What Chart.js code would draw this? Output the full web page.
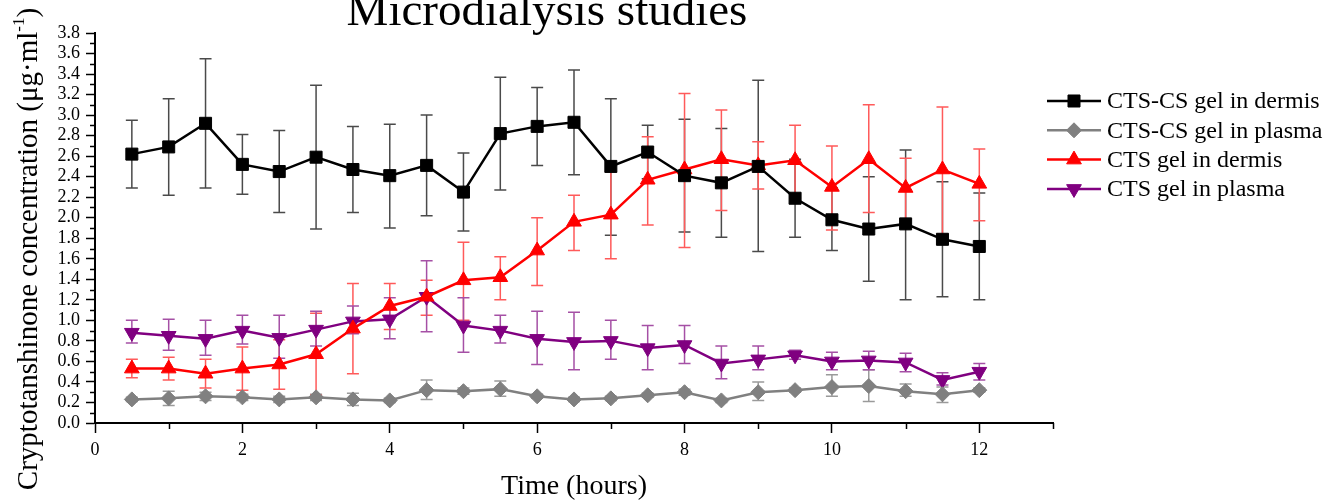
<!DOCTYPE html>
<html><head><meta charset="utf-8">
<script src="https://cdn.jsdelivr.net/npm/chart.js@4/dist/chart.umd.min.js"></script>
<style>html,body{margin:0;padding:0;background:#fff;overflow:hidden}#wrap{position:relative;width:1324px;height:503px}</style>
</head><body><div id="wrap"><canvas id="c" width="1324" height="503"></canvas></div>
<script>
const hours = [0.5,1,1.5,2,2.5,3,3.5,4,4.5,5,5.5,6,6.5,7,7.5,8,8.5,9,9.5,10,10.5,11,11.5,12];
const seriesNames = ['CTS-CS gel in dermis','CTS-CS gel in plasma','CTS gel in dermis','CTS gel in plasma'];

const ctsCsDermis   = [2.62,2.69,2.92,2.52,2.45,2.59,2.47,2.41,2.51,2.25,2.82,2.89,2.93,2.50,2.64,2.41,2.34,2.50,2.19,1.98,1.89,1.94,1.79,1.72];
const ctsCsDermisHi = [2.95,3.16,3.55,2.81,2.85,3.29,2.89,2.91,3.00,2.63,3.37,3.27,3.44,3.16,2.90,2.96,2.87,3.34,2.57,2.29,2.40,2.66,2.35,2.24];
const ctsCsDermisLo = [2.29,2.22,2.29,2.23,2.05,1.89,2.05,1.90,2.02,1.87,2.27,2.51,2.42,1.83,2.38,1.86,1.81,1.67,1.81,1.68,1.38,1.20,1.23,1.20];

const ctsCsPlasma   = [0.23,0.24,0.26,0.25,0.23,0.25,0.23,0.22,0.32,0.31,0.33,0.26,0.23,0.24,0.27,0.30,0.22,0.30,0.32,0.35,0.36,0.31,0.28,0.32];
const ctsCsPlasmaHi = [0.25,0.31,0.30,0.28,0.26,0.28,0.29,0.24,0.42,0.34,0.41,0.28,0.25,0.26,0.29,0.33,0.24,0.40,0.34,0.47,0.52,0.38,0.35,0.34];
const ctsCsPlasmaLo = [0.21,0.17,0.22,0.22,0.20,0.22,0.17,0.20,0.23,0.28,0.26,0.24,0.21,0.22,0.25,0.27,0.20,0.22,0.30,0.26,0.21,0.26,0.20,0.30];

const ctsDermis   = [0.53,0.53,0.48,0.53,0.57,0.67,0.92,1.14,1.23,1.39,1.42,1.68,1.96,2.03,2.37,2.47,2.57,2.51,2.56,2.30,2.57,2.29,2.47,2.33];
const ctsDermisHi = [0.62,0.64,0.62,0.74,0.81,1.07,1.36,1.36,1.39,1.76,1.62,2.00,2.22,2.45,2.79,3.21,3.05,2.74,2.90,2.70,3.10,2.58,3.08,2.67];
const ctsDermisLo = [0.44,0.42,0.34,0.32,0.33,0.27,0.48,0.91,1.05,1.00,1.20,1.34,1.68,1.60,1.93,1.71,2.07,2.28,2.19,1.88,2.05,1.98,1.84,1.97];

const ctsPlasma   = [0.88,0.85,0.82,0.90,0.83,0.91,0.99,1.01,1.23,0.95,0.90,0.82,0.79,0.80,0.73,0.76,0.58,0.62,0.66,0.60,0.61,0.59,0.42,0.50];
const ctsPlasmaHi = [1.00,1.01,1.00,1.05,1.05,1.09,1.14,1.22,1.58,1.22,1.05,1.09,1.08,1.00,0.95,0.95,0.75,0.75,0.71,0.69,0.70,0.68,0.49,0.58];
const ctsPlasmaLo = [0.78,0.71,0.66,0.77,0.63,0.75,0.87,0.82,0.89,0.69,0.78,0.57,0.52,0.62,0.52,0.58,0.43,0.52,0.62,0.52,0.52,0.50,0.37,0.42];

const xMajorTicks = [0,2,4,6,8,10,12];
const xMinorTicks = [1,3,5,7,9,11,13];
const yMinorTicks = [0.1,0.3,0.5,0.7,0.9,1.1,1.3,1.5,1.7,1.9,2.1,2.3,2.5,2.7,2.9,3.1,3.3,3.5,3.7];

const FONT = "'Liberation Serif','Times New Roman',serif";
const toPts = arr => arr.map((v,i)=>({x:hours[i], y:v}));

const ds = (label, vals, hi, lo, color, errColor, style, radius, rot) => ({
  label, data: toPts(vals), hi, lo, errColor,
  borderColor: color, backgroundColor: color, borderWidth: 2.5,
  pointStyle: style, pointRadius: radius, pointRotation: rot,
  pointBackgroundColor: color, pointBorderColor: color, pointBorderWidth: 1,
  fill: false, tension: 0
});

const datasets = [
  ds(seriesNames[0], ctsCsDermis, ctsCsDermisHi, ctsCsDermisLo, '#000000', '#4a4a4a', 'rect', 8.5, 0),
  ds(seriesNames[1], ctsCsPlasma, ctsCsPlasmaHi, ctsCsPlasmaLo, '#808080', '#9a9a9a', 'rectRot', 7.5, 0),
  ds(seriesNames[2], ctsDermis, ctsDermisHi, ctsDermisLo, '#ff0000', '#ff5a5a', 'triangle', 8.5, 0),
  ds(seriesNames[3], ctsPlasma, ctsPlasmaHi, ctsPlasmaLo, '#800080', '#a550a5', 'triangle', 8.5, 180)
];

const errorBars = {
  id: 'errorBars',
  beforeDatasetsDraw(chart) {
    const {ctx, scales:{x, y}} = chart;
    ctx.save();
    chart.data.datasets.forEach(d => {
      ctx.strokeStyle = d.errColor; ctx.lineWidth = 1.5;
      d.data.forEach((p,i) => {
        const px = x.getPixelForValue(p.x);
        const yh = y.getPixelForValue(d.hi[i]), yl = y.getPixelForValue(d.lo[i]);
        ctx.beginPath();
        ctx.moveTo(px, yh); ctx.lineTo(px, yl);
        ctx.moveTo(px-6, yh); ctx.lineTo(px+6, yh);
        ctx.moveTo(px-6, yl); ctx.lineTo(px+6, yl);
        ctx.stroke();
      });
    });
    ctx.restore();
  }
};

function drawMarker(ctx, style, rot, r, x, y, color) {
  if (Chart.helpers && Chart.helpers.drawPoint) {
    ctx.fillStyle = color; ctx.strokeStyle = color; ctx.lineWidth = 1;
    Chart.helpers.drawPoint(ctx, {pointStyle: style, rotation: rot, radius: r, borderWidth: 1}, x, y);
  }
}

const decorations = {
  id: 'decorations',
  afterDraw(chart) {
    const {ctx, scales:{x, y}, chartArea} = chart;
    ctx.save();
    // minor ticks
    ctx.strokeStyle = '#000'; ctx.lineWidth = 1.5;
    ctx.beginPath();
    yMinorTicks.forEach(v => { const py = Math.round(y.getPixelForValue(v)) + 0.5; ctx.moveTo(chartArea.left - 5, py); ctx.lineTo(chartArea.left, py); });
    xMinorTicks.forEach(v => { const px = Math.round(x.getPixelForValue(v)) + 0.5; ctx.moveTo(px, chartArea.bottom); ctx.lineTo(px, chartArea.bottom + 6); });
    ctx.stroke();

    // title
    ctx.fillStyle = '#000';
    ctx.font = "47px " + FONT;
    ctx.textAlign = 'center'; ctx.textBaseline = 'alphabetic';
    ctx.fillText('Microdialysis studies', 547, 25);

    // y title with superscript
    ctx.save();
    ctx.translate(37, 249);
    ctx.rotate(-Math.PI/2);
    const main = 'Cryptotanshinone concentration (\u03bcg\u00b7ml';
    const sup = '-1';
    const close = ')';
    ctx.font = "29px " + FONT;
    const wMain = ctx.measureText(main).width;
    const wClose = ctx.measureText(close).width;
    ctx.font = "17px " + FONT;
    const wSup = ctx.measureText(sup).width;
    const total = wMain + wSup + wClose;
    let sx = -total/2;
    ctx.textAlign = 'left';
    ctx.font = "29px " + FONT;
    ctx.fillText(main, sx, 0);
    ctx.font = "17px " + FONT;
    ctx.fillText(sup, sx + wMain, -13);
    ctx.font = "29px " + FONT;
    ctx.fillText(close, sx + wMain + wSup, 0);
    ctx.restore();

    // legend
    chart.data.datasets.forEach((d, i) => {
      const ly = 101 + i * 29.3;
      ctx.strokeStyle = d.borderColor; ctx.lineWidth = 2.5;
      ctx.beginPath(); ctx.moveTo(1047, ly); ctx.lineTo(1101, ly); ctx.stroke();
      drawMarker(ctx, d.pointStyle, d.pointRotation, d.pointRadius, 1074, ly, d.borderColor);
      ctx.fillStyle = '#000';
      ctx.font = "24px " + FONT;
      ctx.textAlign = 'left'; ctx.textBaseline = 'middle';
      ctx.fillText(d.label, 1107, ly + 1);
    });
    ctx.restore();
  }
};

new Chart(document.getElementById('c'), {
  type: 'line',
  data: { datasets },
  options: {
    responsive: false, animation: false, devicePixelRatio: 1,
    layout: { padding: { left: 0, top: 33, right: 271, bottom: 0 } },
    plugins: { legend: { display: false }, tooltip: { enabled: false }, title: { display: false } },
    scales: {
      x: {
        type: 'linear', min: 0, max: 13,
        afterFit: s => { s.height = 80; },
        afterBuildTicks: s => { s.ticks = xMajorTicks.map(v => ({value: v})); },
        ticks: { stepSize: 2, autoSkip: false, maxRotation: 0, color: '#000', padding: 6,
                 font: { family: FONT, size: 18 }, callback: v => String(v) },
        grid: { drawOnChartArea: false, drawTicks: true, tickLength: 10, tickColor: '#000', tickWidth: 1.5 },
        border: { display: true, color: '#000', width: 2 },
        title: { display: true, text: 'Time (hours)', color: '#000', font: { family: FONT, size: 28 }, padding: { top: 0, bottom: 0 } }
      },
      y: {
        type: 'linear', min: 0, max: 3.8,
        afterFit: s => { s.width = 95; },
        ticks: { stepSize: 0.2, autoSkip: false, color: '#000', padding: 6,
                 font: { family: FONT, size: 18 }, callback: v => Number(v).toFixed(1) },
        grid: { drawOnChartArea: false, drawTicks: true, tickLength: 9, tickColor: '#000', tickWidth: 1.5 },
        border: { display: true, color: '#000', width: 2 }
      }
    }
  },
  plugins: [errorBars, decorations]
});
</script>
</body></html>
